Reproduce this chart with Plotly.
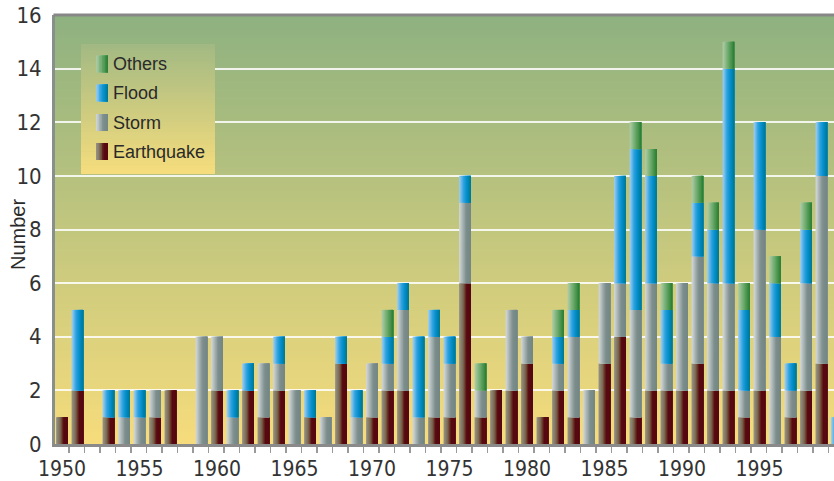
import plotly.graph_objects as go

# ---------------- data ----------------
years = list(range(1950, 2001))
earthquake = [1, 2, 0, 1, 0, 0, 1, 2, 0, 0,
              2, 0, 2, 1, 2, 0, 1, 0, 3, 0,
              1, 2, 2, 0, 1, 1, 6, 1, 2, 2,
              3, 1, 2, 1, 0, 3, 4, 1, 2, 2,
              2, 3, 2, 2, 1, 2, 0, 1, 2, 3,
              0]
storm = [0, 0, 0, 0, 1, 1, 1, 0, 0, 4,
         2, 1, 0, 2, 1, 2, 0, 1, 0, 1,
         2, 1, 3, 1, 3, 2, 3, 1, 0, 3,
         1, 0, 1, 3, 2, 3, 2, 4, 4, 1,
         4, 4, 4, 4, 1, 6, 4, 1, 4, 7,
         0]
flood = [0, 3, 0, 1, 1, 1, 0, 0, 0, 0,
         0, 1, 1, 0, 1, 0, 1, 0, 1, 1,
         0, 1, 1, 3, 1, 1, 1, 0, 0, 0,
         0, 0, 1, 1, 0, 0, 4, 6, 4, 2,
         0, 2, 2, 8, 3, 4, 2, 1, 2, 2,
         1]
others = [0, 0, 0, 0, 0, 0, 0, 0, 0, 0,
          0, 0, 0, 0, 0, 0, 0, 0, 0, 0,
          0, 1, 0, 0, 0, 0, 0, 1, 0, 0,
          0, 0, 1, 1, 0, 0, 0, 1, 1, 1,
          0, 1, 1, 1, 1, 0, 1, 0, 1, 0,
          0]
categories = ["Earthquake", "Storm", "Flood", "Others"]
x_tick_years = [1950, 1955, 1960, 1965, 1970, 1975, 1980, 1985, 1990, 1995]
y_ticks = [0, 2, 4, 6, 8, 10, 12, 14, 16]

# ---------------- styling ----------------
gradients = {
    "Earthquake": [(0.0, (152, 150, 140)), (0.35, (122, 104, 80)), (0.55, (100, 40, 30)),
                   (0.65, (88, 10, 18)), (1.0, (86, 6, 16))],
    "Storm": [(0.0, (214, 218, 218)), (0.35, (162, 174, 174)), (0.6, (124, 142, 140)),
              (1.0, (116, 134, 132))],
    "Flood": [(0.0, (165, 208, 242)), (0.4, (40, 160, 222)), (0.7, (0, 140, 200)),
              (1.0, (0, 118, 138))],
    "Others": [(0.0, (178, 206, 168)), (0.5, (105, 168, 105)), (1.0, (38, 124, 48))],
}


def grad_color(stops, t):
    for (t0, c0), (t1, c1) in zip(stops[:-1], stops[1:]):
        if t <= t1:
            f = 0 if t1 == t0 else (t - t0) / (t1 - t0)
            c = [round(a + (b - a) * f) for a, b in zip(c0, c1)]
            return "rgb(%d,%d,%d)" % tuple(c)
    return "rgb(%d,%d,%d)" % stops[-1][1]


def lerp(c0, c1, f):
    return "rgb(%d,%d,%d)" % tuple(round(a + (b - a) * f) for a, b in zip(c0, c1))


PL, PR, PT, PB = 55, 834, 15, 444
W, H = 834, 481


def pxx(xp):
    return (xp - PL) / (PR - PL)


def pxy(yp):
    return (PB - yp) / (PB - PT)


fig = go.Figure()

series = {"Earthquake": earthquake, "Storm": storm, "Flood": flood, "Others": others}
bar_w = 0.76
NS = 10
base = [0] * len(years)
for cat in categories:
    vals = series[cat]
    yv = [v if v > 0 else None for v in vals]
    for k in range(NS):
        fig.add_trace(go.Bar(
            x=years, y=yv, base=base,
            offset=-bar_w / 2 + k * bar_w / NS,
            width=bar_w * (NS - k) / NS,
            marker=dict(color=grad_color(gradients[cat], (k + 0.5) / NS), line=dict(width=0)),
            showlegend=False, hoverinfo="skip", name=cat,
        ))
    base = [b + v for b, v in zip(base, vals)]

shapes = []
# plot background gradient
top_c, bot_c = (142, 177, 128), (246, 220, 124)
NB = 110
for i in range(NB):
    y0 = i / NB
    y1 = (i + 1) / NB + 0.002
    shapes.append(dict(type="rect", xref="paper", yref="paper", x0=0, x1=1, y0=y0, y1=min(y1, 1),
                       fillcolor=lerp(bot_c, top_c, (i + 0.5) / NB), line=dict(width=0), layer="below"))

# legend box gradient
LX0, LX1, LY0, LY1 = 81, 215, 44, 174
lt, lb = (162, 185, 131), (246, 221, 125)
NL = 40
for i in range(NL):
    ya = LY0 + (LY1 - LY0) * i / NL
    yb = LY0 + (LY1 - LY0) * (i + 1) / NL + 0.6
    shapes.append(dict(type="rect", xref="paper", yref="paper", x0=pxx(LX0), x1=pxx(LX1),
                       y0=pxy(min(yb, LY1)), y1=pxy(ya),
                       fillcolor=lerp(lt, lb, (i + 0.5) / NL), line=dict(width=0), layer="above"))

annotations = []
legend_items = [("Others", 64), ("Flood", 93), ("Storm", 122.5), ("Earthquake", 151.5)]
SX0, SX1, SH = 96, 108, 17
for name, yc in legend_items:
    NSW = 8
    for k in range(NSW):
        xa = SX0 + (SX1 - SX0) * k / NSW
        shapes.append(dict(type="rect", xref="paper", yref="paper", x0=pxx(xa), x1=pxx(SX1),
                           y0=pxy(yc + SH / 2), y1=pxy(yc - SH / 2),
                           fillcolor=grad_color(gradients[name], (k + 0.5) / NSW),
                           line=dict(width=0), layer="above"))
    annotations.append(dict(text=name, xref="paper", yref="paper", x=pxx(111), y=pxy(yc),
                            xanchor="left", yanchor="middle", showarrow=False,
                            font=dict(family="Liberation Sans, Arial, sans-serif", size=18, color="#2a2a2a")))

# top frame line
shapes.append(dict(type="line", xref="paper", yref="paper", x0=-0.002, x1=1, y0=1, y1=1,
                   line=dict(color="#878787", width=3), layer="above"))

annotations.append(dict(text="Number", xref="paper", yref="paper", x=pxx(18), y=pxy(235),
                        xanchor="center", yanchor="middle", textangle=-90, showarrow=False,
                        font=dict(family="Liberation Sans, Arial, sans-serif", size=20, color="#2a2a2a")))

cond = "Liberation Sans Narrow, DejaVu Sans Condensed, Arial Narrow, sans-serif"
fig.update_layout(
    width=W, height=H,
    margin=dict(l=PL, r=W - PR, t=PT, b=H - PB, pad=0, autoexpand=False),
    barmode="overlay",
    paper_bgcolor="white",
    plot_bgcolor="rgb(200,200,126)",
    showlegend=False,
    shapes=shapes,
    annotations=annotations,
    xaxis=dict(
        range=[1949.548, 1999.81], automargin=False,
        tickmode="array", tickvals=x_tick_years, ticktext=[str(v) for v in x_tick_years],
        ticks="", showgrid=False, zeroline=False,
        showline=True, linecolor="#8a8a8a", linewidth=3,
        tickfont=dict(family=cond, size=21, color="#333333"),
        ticklabelstandoff=4,
        minor=dict(tick0=1949.45, dtick=1, ticks="outside", ticklen=6,
                   tickcolor="#9a9a9a", tickwidth=1.5, showgrid=False),
    ),
    yaxis=dict(
        range=[0, 16], automargin=False,
        tickmode="array", tickvals=y_ticks, ticktext=[str(v) for v in y_ticks],
        ticks="", showgrid=True, gridcolor="rgba(255,255,255,0.85)", gridwidth=2,
        zeroline=False, showline=True, linecolor="#87908a", linewidth=3,
        tickfont=dict(family=cond, size=22, color="#333333"),
        ticklabelstandoff=6,
    ),
)

fig.write_html("out.html",
               config={"displayModeBar": False, "staticPlot": True},
               post_script="document.body.style.margin='0px';document.body.style.overflow='hidden';")
